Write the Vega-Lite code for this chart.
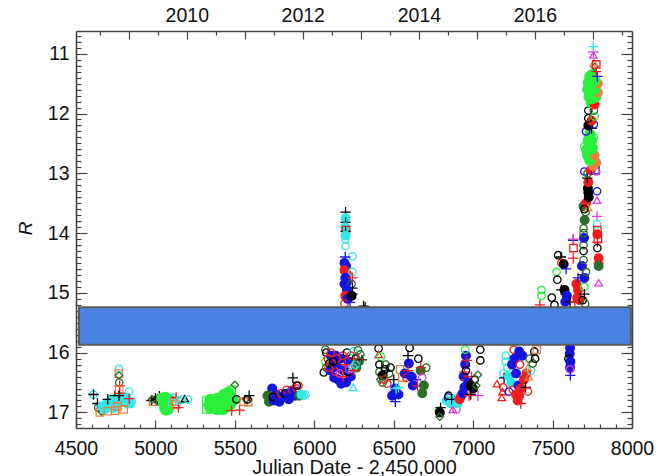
{"$schema":"https://vega.github.io/schema/vega-lite/v6.json","width":556,"height":397,"padding":{"left":76,"top":31,"right":31,"bottom":48},"autosize":"none","background":"white",
"config":{"view":{"stroke":null},"axis":{"labelFont":"Liberation Sans","titleFont":"Liberation Sans","labelFontSize":19.5,"titleFontSize":19.8,"titleFontWeight":"normal","labelColor":"#111","titleColor":"#111","domainColor":"#444","tickColor":"#444","domainWidth":1.6,"tickWidth":1.2,"grid":false}},
"datasets":{"box":[{"jd":4519,"jd2":7993,"r":15.24,"r2":15.866}],
"obs":[
{"jd":4610,"r":16.7,"s":"cc"},{"jd":4610,"r":16.7,"s":"kp"},{"jd":4640,"r":16.92,"s":"gc"},{"jd":4635,"r":16.85,"s":"kp"},{"jd":4650,"r":17.0,"s":"os"},{"jd":4660,"r":16.98,"s":"gd"},{"jd":4665,"r":16.9,"s":"cf"},{"jd":4680,"r":16.95,"s":"cf"},{"jd":4695,"r":16.85,"s":"cf"},{"jd":4700,"r":16.93,"s":"cc"},{"jd":4720,"r":16.88,"s":"cf"},{"jd":4725,"r":16.78,"s":"cf"},{"jd":4700,"r":16.78,"s":"kp"},{"jd":4745,"r":16.72,"s":"kp"},{"jd":4740,"r":16.92,"s":"cf"},{"jd":4750,"r":16.8,"s":"cf"},{"jd":4760,"r":16.85,"s":"cf"},{"jd":4780,"r":16.83,"s":"cf"},{"jd":4780,"r":16.74,"s":"cf"},{"jd":4800,"r":16.8,"s":"cf"},{"jd":4815,"r":16.75,"s":"cf"},{"jd":4820,"r":16.85,"s":"cf"},{"jd":4840,"r":16.85,"s":"cf"},{"jd":4850,"r":16.82,"s":"cc"},{"jd":4700,"r":16.98,"s":"os"},{"jd":4745,"r":16.97,"s":"os"},{"jd":4762,"r":16.9,"s":"os"},{"jd":4800,"r":16.95,"s":"os"},{"jd":4770,"r":16.27,"s":"cc"},{"jd":4770,"r":16.35,"s":"os"},{"jd":4770,"r":16.38,"s":"gd"},{"jd":4772,"r":16.5,"s":"gc"},{"jd":4775,"r":16.55,"s":"rp"},{"jd":4772,"r":16.62,"s":"os"},{"jd":4775,"r":16.68,"s":"rp"},{"jd":4770,"r":16.72,"s":"kp"},{"jd":4835,"r":16.65,"s":"cc"},{"jd":4835,"r":16.77,"s":"rp"},
{"jd":4975,"r":16.8,"s":"kp"},{"jd":4985,"r":16.82,"s":"os"},{"jd":4980,"r":16.78,"s":"gd"},{"jd":5000,"r":16.76,"s":"kp"},{"jd":5012,"r":16.78,"s":"kp"},{"jd":5025,"r":16.73,"s":"kp"},{"jd":5015,"r":16.82,"s":"gd"},{"jd":5040,"r":16.76,"s":"lf"},{"jd":5050,"r":16.82,"s":"lf"},{"jd":5062,"r":16.75,"s":"lf"},{"jd":5058,"r":16.92,"s":"lf"},{"jd":5070,"r":16.86,"s":"lf"},{"jd":5085,"r":16.78,"s":"lf"},{"jd":5085,"r":16.9,"s":"lf"},{"jd":5065,"r":16.96,"s":"lf"},{"jd":5080,"r":16.95,"s":"lf"},{"jd":5110,"r":16.75,"s":"cc"},{"jd":5105,"r":16.85,"s":"cc"},{"jd":5120,"r":16.82,"s":"os"},{"jd":5130,"r":16.75,"s":"rp"},{"jd":5130,"r":16.87,"s":"os"},{"jd":5145,"r":16.92,"s":"rp"},{"jd":5150,"r":16.8,"s":"cc"},{"jd":5170,"r":16.78,"s":"cc"},{"jd":5185,"r":16.77,"s":"kt"},{"jd":5205,"r":16.78,"s":"cc"},
{"jd":5320,"r":16.8,"s":"ls"},{"jd":5320,"r":16.95,"s":"ls"},{"jd":5335,"r":16.87,"s":"ls"},{"jd":5350,"r":16.78,"s":"ls"},{"jd":5340,"r":16.85,"s":"lf"},{"jd":5345,"r":16.78,"s":"lf"},{"jd":5345,"r":16.93,"s":"lf"},{"jd":5360,"r":16.8,"s":"lf"},{"jd":5360,"r":16.92,"s":"lf"},{"jd":5380,"r":16.85,"s":"lf"},{"jd":5385,"r":16.95,"s":"lf"},{"jd":5385,"r":16.77,"s":"lf"},{"jd":5400,"r":16.78,"s":"lf"},{"jd":5400,"r":16.92,"s":"lf"},{"jd":5420,"r":16.85,"s":"lf"},{"jd":5425,"r":16.95,"s":"lf"},{"jd":5430,"r":16.7,"s":"lf"},{"jd":5440,"r":16.92,"s":"lf"},{"jd":5450,"r":16.78,"s":"lf"},{"jd":5460,"r":16.66,"s":"lf"},{"jd":5475,"r":16.72,"s":"lf"},{"jd":5470,"r":16.88,"s":"lf"},{"jd":5490,"r":16.8,"s":"lf"},{"jd":5480,"r":16.62,"s":"ls"},{"jd":5500,"r":16.54,"s":"gd"},{"jd":5510,"r":16.78,"s":"kc"},{"jd":5480,"r":16.97,"s":"rp"},{"jd":5530,"r":16.96,"s":"rp"},{"jd":5555,"r":16.82,"s":"os"},{"jd":5570,"r":16.78,"s":"gd"},{"jd":5585,"r":16.83,"s":"os"},{"jd":5590,"r":16.72,"s":"kp"},{"jd":5580,"r":16.78,"s":"kc"},
{"jd":5705,"r":16.72,"s":"gf"},{"jd":5715,"r":16.82,"s":"gf"},{"jd":5735,"r":16.6,"s":"bf"},{"jd":5730,"r":16.72,"s":"gf"},{"jd":5745,"r":16.8,"s":"bf"},{"jd":5760,"r":16.7,"s":"bf"},{"jd":5740,"r":16.74,"s":"kc"},{"jd":5780,"r":16.82,"s":"bf"},{"jd":5800,"r":16.75,"s":"bf"},{"jd":5790,"r":16.68,"s":"rc"},{"jd":5820,"r":16.7,"s":"bf"},{"jd":5825,"r":16.62,"s":"rc"},{"jd":5815,"r":16.68,"s":"kc"},{"jd":5840,"r":16.78,"s":"bf"},{"jd":5855,"r":16.65,"s":"bf"},{"jd":5865,"r":16.42,"s":"kp"},{"jd":5870,"r":16.58,"s":"bp"},{"jd":5860,"r":16.62,"s":"rc"},{"jd":5880,"r":16.72,"s":"bf"},{"jd":5890,"r":16.6,"s":"rc"},{"jd":5900,"r":16.55,"s":"rc"},{"jd":5890,"r":16.55,"s":"kc"},{"jd":5905,"r":16.72,"s":"gf"},{"jd":5920,"r":16.7,"s":"cf"},{"jd":5935,"r":16.72,"s":"cc"},{"jd":5945,"r":16.7,"s":"cc"},
{"jd":6070,"r":15.95,"s":"gc"},{"jd":6075,"r":16.0,"s":"kc"},{"jd":6070,"r":16.15,"s":"lc"},{"jd":6060,"r":16.33,"s":"kc"},{"jd":6075,"r":16.25,"s":"gc"},{"jd":6100,"r":16.3,"s":"bf"},{"jd":6115,"r":16.2,"s":"bf"},{"jd":6105,"r":16.05,"s":"bf"},{"jd":6125,"r":16.42,"s":"bf"},{"jd":6135,"r":16.05,"s":"bf"},{"jd":6150,"r":16.25,"s":"bf"},{"jd":6150,"r":16.45,"s":"bf"},{"jd":6165,"r":16.1,"s":"bf"},{"jd":6170,"r":16.52,"s":"bf"},{"jd":6185,"r":16.3,"s":"bf"},{"jd":6200,"r":16.5,"s":"bf"},{"jd":6215,"r":16.15,"s":"bf"},{"jd":6230,"r":16.4,"s":"bf"},{"jd":6085,"r":16.1,"s":"rc"},{"jd":6095,"r":16.18,"s":"kc"},{"jd":6090,"r":16.25,"s":"rc"},{"jd":6105,"r":16.0,"s":"rc"},{"jd":6140,"r":16.1,"s":"rc"},{"jd":6135,"r":16.32,"s":"rc"},{"jd":6180,"r":16.05,"s":"rc"},{"jd":6205,"r":16.0,"s":"kc"},{"jd":6210,"r":16.32,"s":"kc"},{"jd":6195,"r":16.2,"s":"rp"},{"jd":6230,"r":16.05,"s":"rc"},{"jd":6160,"r":16.35,"s":"mc"},{"jd":6120,"r":16.15,"s":"kc"},{"jd":6180,"r":16.4,"s":"rp"},{"jd":6220,"r":16.28,"s":"mc"},
{"jd":6197,"r":13.65,"s":"kp"},{"jd":6197,"r":13.75,"s":"cf"},{"jd":6197,"r":13.82,"s":"kp"},{"jd":6195,"r":13.9,"s":"cf"},{"jd":6200,"r":13.95,"s":"rs"},{"jd":6197,"r":13.97,"s":"kp"},{"jd":6197,"r":14.04,"s":"cf"},{"jd":6197,"r":14.1,"s":"cc"},{"jd":6197,"r":14.22,"s":"cc"},{"jd":6240,"r":14.39,"s":"cc"},{"jd":6195,"r":14.4,"s":"bp"},{"jd":6190,"r":14.5,"s":"bf"},{"jd":6200,"r":14.55,"s":"bf"},{"jd":6190,"r":14.62,"s":"rf"},{"jd":6205,"r":14.68,"s":"rf"},{"jd":6195,"r":14.75,"s":"bf"},{"jd":6190,"r":14.85,"s":"bf"},{"jd":6205,"r":14.82,"s":"bf"},{"jd":6240,"r":14.65,"s":"cc"},{"jd":6240,"r":14.75,"s":"rp"},{"jd":6235,"r":14.85,"s":"gc"},{"jd":6240,"r":14.92,"s":"kp"},{"jd":6205,"r":14.95,"s":"bf"},{"jd":6195,"r":15.05,"s":"rf"},{"jd":6210,"r":15.1,"s":"bf"},{"jd":6190,"r":15.18,"s":"rc"},{"jd":6235,"r":15.05,"s":"kf"},{"jd":6240,"r":15.02,"s":"kp"},{"jd":6225,"r":15.16,"s":"bp"},{"jd":6310,"r":15.22,"s":"kp"},{"jd":6320,"r":15.24,"s":"kp"},
{"jd":6245,"r":15.98,"s":"cc"},{"jd":6275,"r":15.96,"s":"gc"},{"jd":6260,"r":16.1,"s":"kc"},{"jd":6290,"r":16.03,"s":"gc"},{"jd":6265,"r":16.18,"s":"gf"},{"jd":6280,"r":16.1,"s":"rp"},{"jd":6300,"r":16.12,"s":"kp"},{"jd":6265,"r":16.25,"s":"gf"},{"jd":6245,"r":16.25,"s":"cc"},{"jd":6250,"r":16.3,"s":"rp"},{"jd":6260,"r":16.2,"s":"cc"},{"jd":6245,"r":16.58,"s":"ct"},{"jd":6285,"r":16.15,"s":"gc"},
{"jd":6405,"r":15.93,"s":"kc"},{"jd":6405,"r":16.03,"s":"rt"},{"jd":6420,"r":16.07,"s":"lc"},{"jd":6410,"r":16.2,"s":"kc"},{"jd":6425,"r":16.25,"s":"kp"},{"jd":6450,"r":16.2,"s":"gc"},{"jd":6410,"r":16.32,"s":"gc"},{"jd":6430,"r":16.38,"s":"kf"},{"jd":6455,"r":16.3,"s":"kp"},{"jd":6415,"r":16.45,"s":"gd"},{"jd":6440,"r":16.45,"s":"rc"},{"jd":6430,"r":16.5,"s":"gc"},{"jd":6470,"r":16.35,"s":"gc"},{"jd":6445,"r":16.28,"s":"kc"},{"jd":6480,"r":16.25,"s":"kc"},{"jd":6460,"r":16.52,"s":"rc"},{"jd":6500,"r":16.45,"s":"kp"},{"jd":6510,"r":16.6,"s":"bf"},{"jd":6490,"r":16.72,"s":"bf"},{"jd":6530,"r":16.7,"s":"bf"},{"jd":6510,"r":16.82,"s":"bp"},{"jd":6515,"r":16.6,"s":"cp"},{"jd":6530,"r":16.58,"s":"cp"},{"jd":6540,"r":16.28,"s":"os"},{"jd":6555,"r":16.42,"s":"os"},{"jd":6570,"r":16.35,"s":"bf"},{"jd":6590,"r":16.05,"s":"kp"},{"jd":6595,"r":16.18,"s":"bf"},{"jd":6590,"r":16.3,"s":"rp"},{"jd":6580,"r":16.42,"s":"rc"},{"jd":6600,"r":15.92,"s":"kc"},{"jd":6610,"r":16.4,"s":"bf"},{"jd":6620,"r":16.55,"s":"bf"},{"jd":6640,"r":16.45,"s":"bp"},{"jd":6650,"r":16.55,"s":"rp"},{"jd":6655,"r":16.1,"s":"kc"},{"jd":6670,"r":16.3,"s":"gf"},{"jd":6680,"r":16.42,"s":"mc"},{"jd":6690,"r":16.55,"s":"gf"},{"jd":6680,"r":16.68,"s":"gf"},{"jd":6670,"r":16.25,"s":"rp"},{"jd":6705,"r":16.25,"s":"gc"},
{"jd":6785,"r":16.97,"s":"lc"},{"jd":6790,"r":17.0,"s":"kf"},{"jd":6790,"r":17.07,"s":"gd"},{"jd":6795,"r":16.92,"s":"kp"},{"jd":6835,"r":16.8,"s":"cf"},{"jd":6842,"r":16.75,"s":"bc"},{"jd":6845,"r":16.72,"s":"kc"},{"jd":6860,"r":16.85,"s":"cf"},{"jd":6880,"r":16.78,"s":"cf"},{"jd":6872,"r":16.95,"s":"mt"},{"jd":6865,"r":16.78,"s":"kp"},{"jd":6895,"r":16.95,"s":"mc"},{"jd":6900,"r":16.85,"s":"cf"},{"jd":6915,"r":16.78,"s":"rf"},{"jd":6925,"r":16.72,"s":"rf"},{"jd":6935,"r":16.68,"s":"bf"},{"jd":6945,"r":16.58,"s":"bf"},{"jd":6940,"r":16.4,"s":"bf"},{"jd":6950,"r":16.2,"s":"bf"},{"jd":6955,"r":16.05,"s":"bf"},{"jd":6950,"r":15.95,"s":"lc"},{"jd":6960,"r":16.13,"s":"rp"},{"jd":6945,"r":16.32,"s":"rp"},{"jd":6955,"r":16.45,"s":"rp"},{"jd":6955,"r":16.3,"s":"kc"},{"jd":6970,"r":16.5,"s":"bf"},{"jd":6985,"r":16.55,"s":"kf"},{"jd":6990,"r":16.4,"s":"rp"},{"jd":7000,"r":16.6,"s":"kf"},{"jd":7010,"r":16.45,"s":"kc"},{"jd":7030,"r":16.37,"s":"gd"},{"jd":7020,"r":16.55,"s":"gd"},{"jd":6985,"r":16.7,"s":"kp"},{"jd":6975,"r":16.72,"s":"rp"},{"jd":7030,"r":16.72,"s":"mp"},{"jd":7045,"r":15.95,"s":"kc"},{"jd":7045,"r":16.13,"s":"kc"},
{"jd":7150,"r":16.52,"s":"rt"},{"jd":7185,"r":16.65,"s":"rt"},{"jd":7190,"r":16.58,"s":"rc"},{"jd":7180,"r":16.75,"s":"rt"},{"jd":7190,"r":16.35,"s":"cc"},{"jd":7195,"r":16.42,"s":"kp"},{"jd":7205,"r":16.05,"s":"cc"},{"jd":7205,"r":16.15,"s":"cc"},{"jd":7215,"r":16.25,"s":"cc"},{"jd":7225,"r":16.4,"s":"cf"},{"jd":7240,"r":16.5,"s":"cf"},{"jd":7225,"r":16.65,"s":"bc"},{"jd":7250,"r":16.62,"s":"rc"},{"jd":7245,"r":16.2,"s":"bf"},{"jd":7260,"r":16.1,"s":"bf"},{"jd":7255,"r":15.95,"s":"rc"},{"jd":7270,"r":16.7,"s":"rf"},{"jd":7280,"r":16.8,"s":"rf"},{"jd":7270,"r":16.35,"s":"bf"},{"jd":7285,"r":16.55,"s":"bf"},{"jd":7290,"r":16.72,"s":"rf"},{"jd":7300,"r":16.6,"s":"rf"},{"jd":7295,"r":16.2,"s":"rc"},{"jd":7290,"r":15.98,"s":"bf"},{"jd":7310,"r":16.05,"s":"bf"},{"jd":7320,"r":16.45,"s":"rf"},{"jd":7335,"r":16.35,"s":"rf"},{"jd":7330,"r":16.58,"s":"kp"},{"jd":7345,"r":16.25,"s":"ot"},{"jd":7350,"r":16.4,"s":"ot"},{"jd":7355,"r":16.1,"s":"gc"},{"jd":7365,"r":16.3,"s":"cc"},{"jd":7375,"r":16.18,"s":"gc"},{"jd":7385,"r":15.98,"s":"kc"},{"jd":7390,"r":16.1,"s":"kc"},{"jd":7400,"r":15.95,"s":"os"},{"jd":7345,"r":16.65,"s":"rc"},{"jd":7300,"r":16.85,"s":"rp"},
{"jd":7420,"r":15.2,"s":"rp"},{"jd":7430,"r":14.95,"s":"lc"},{"jd":7430,"r":15.05,"s":"lc"},{"jd":7495,"r":15.08,"s":"kc"},{"jd":7512,"r":15.2,"s":"kc"},{"jd":7525,"r":14.65,"s":"lc"},{"jd":7530,"r":14.78,"s":"kc"},{"jd":7535,"r":14.37,"s":"kc"},{"jd":7552,"r":14.4,"s":"kp"},{"jd":7555,"r":14.5,"s":"rc"},{"jd":7570,"r":14.52,"s":"kf"},{"jd":7585,"r":14.6,"s":"bp"},{"jd":7555,"r":14.95,"s":"kp"},{"jd":7575,"r":14.95,"s":"kf"},{"jd":7590,"r":15.05,"s":"bf"},{"jd":7580,"r":15.15,"s":"bf"},{"jd":7610,"r":15.15,"s":"kp"},{"jd":7630,"r":14.12,"s":"bp"},{"jd":7630,"r":14.1,"s":"mp"},{"jd":7632,"r":14.25,"s":"rs"},{"jd":7630,"r":14.42,"s":"rp"},{"jd":7650,"r":14.85,"s":"rf"},{"jd":7660,"r":14.95,"s":"rf"},{"jd":7655,"r":15.08,"s":"rf"},{"jd":7640,"r":15.15,"s":"rp"},{"jd":7670,"r":15.12,"s":"rf"},{"jd":7660,"r":14.75,"s":"bp"},{"jd":7690,"r":14.7,"s":"kp"},{"jd":7685,"r":14.55,"s":"bf"},{"jd":7700,"r":14.9,"s":"lc"},{"jd":7700,"r":15.02,"s":"kp"},
{"jd":7610,"r":15.92,"s":"bf"},{"jd":7608,"r":16.02,"s":"bf"},{"jd":7600,"r":16.1,"s":"kc"},{"jd":7612,"r":16.15,"s":"bf"},{"jd":7610,"r":16.25,"s":"bf"},{"jd":7610,"r":16.28,"s":"mc"},{"jd":7612,"r":16.38,"s":"bp"},
{"jd":7695,"r":14.45,"s":"gc"},{"jd":7695,"r":14.3,"s":"kc"},{"jd":7695,"r":14.2,"s":"gc"},{"jd":7698,"r":14.08,"s":"bf"},{"jd":7695,"r":14.0,"s":"gc"},{"jd":7695,"r":13.92,"s":"gc"},{"jd":7702,"r":13.78,"s":"gf"},{"jd":7708,"r":13.65,"s":"gc"},{"jd":7695,"r":13.55,"s":"gf"},{"jd":7710,"r":13.5,"s":"rf"},{"jd":7725,"r":13.58,"s":"ot"},{"jd":7700,"r":13.6,"s":"kc"},{"jd":7728,"r":13.4,"s":"kf"},{"jd":7725,"r":13.32,"s":"kf"},{"jd":7722,"r":13.25,"s":"kf"},{"jd":7725,"r":13.15,"s":"rf"},{"jd":7718,"r":13.08,"s":"kp"},{"jd":7780,"r":13.45,"s":"mt"},{"jd":7780,"r":13.3,"s":"bc"},
{"jd":7700,"r":12.97,"s":"bc"},{"jd":7720,"r":13.0,"s":"gc"},{"jd":7740,"r":12.95,"s":"rf"},{"jd":7770,"r":12.95,"s":"bs"},{"jd":7775,"r":12.97,"s":"mc"},{"jd":7755,"r":12.88,"s":"of"},{"jd":7775,"r":12.82,"s":"of"},{"jd":7720,"r":12.7,"s":"lf"},{"jd":7735,"r":12.78,"s":"lf"},{"jd":7750,"r":12.72,"s":"lf"},{"jd":7765,"r":12.7,"s":"of"},{"jd":7700,"r":12.55,"s":"lc"},{"jd":7715,"r":12.6,"s":"lf"},{"jd":7735,"r":12.6,"s":"lf"},{"jd":7750,"r":12.58,"s":"lf"},{"jd":7725,"r":12.45,"s":"lf"},{"jd":7745,"r":12.45,"s":"lf"},{"jd":7735,"r":12.35,"s":"lf"},{"jd":7760,"r":12.4,"s":"lc"},{"jd":7710,"r":12.3,"s":"bc"},{"jd":7745,"r":12.25,"s":"kp"},{"jd":7725,"r":12.2,"s":"kf"},{"jd":7760,"r":12.18,"s":"bc"},{"jd":7745,"r":12.12,"s":"rf"},{"jd":7725,"r":12.08,"s":"kc"},{"jd":7765,"r":12.05,"s":"lc"},{"jd":7725,"r":11.95,"s":"kc"},{"jd":7760,"r":11.95,"s":"gc"},
{"jd":7745,"r":11.82,"s":"lf"},{"jd":7765,"r":11.85,"s":"rf"},{"jd":7730,"r":11.72,"s":"lf"},{"jd":7750,"r":11.75,"s":"lf"},{"jd":7772,"r":11.72,"s":"lf"},{"jd":7785,"r":11.65,"s":"of"},{"jd":7722,"r":11.6,"s":"lf"},{"jd":7745,"r":11.62,"s":"lf"},{"jd":7765,"r":11.6,"s":"lf"},{"jd":7785,"r":11.5,"s":"of"},{"jd":7725,"r":11.48,"s":"lf"},{"jd":7745,"r":11.5,"s":"lf"},{"jd":7765,"r":11.45,"s":"lf"},{"jd":7735,"r":11.38,"s":"lf"},{"jd":7750,"r":11.35,"s":"lf"},{"jd":7782,"r":11.38,"s":"bp"},{"jd":7775,"r":11.3,"s":"rp"},{"jd":7765,"r":11.22,"s":"gd"},{"jd":7760,"r":11.15,"s":"ot"},{"jd":7775,"r":11.18,"s":"rs"},{"jd":7757,"r":11.02,"s":"mt"},{"jd":7757,"r":10.97,"s":"mp"},{"jd":7757,"r":10.88,"s":"cp"},
{"jd":7780,"r":13.72,"s":"mp"},{"jd":7780,"r":13.85,"s":"cc"},{"jd":7782,"r":13.95,"s":"rs"},{"jd":7782,"r":14.02,"s":"rf"},{"jd":7785,"r":14.1,"s":"rs"},{"jd":7782,"r":14.15,"s":"rp"},{"jd":7782,"r":14.25,"s":"kc"},{"jd":7790,"r":14.42,"s":"rf"},{"jd":7790,"r":14.5,"s":"rp"},{"jd":7790,"r":14.55,"s":"gf"},{"jd":7790,"r":14.83,"s":"mt"},
{"jd":7700,"r":14.75,"s":"bf"},{"jd":7710,"r":14.65,"s":"gc"},{"jd":7690,"r":15.12,"s":"kc"},{"jd":7705,"r":15.18,"s":"gc"}
]},
"layer":[
{"data":{"name":"obs"},"mark":{"type":"point","filled":false,"strokeWidth":1.3,"opacity":1,"clip":true},
"encoding":{
"x":{"field":"jd","type":"quantitative","scale":{"domain":[4500,8000],"nice":false,"zero":false},"title":"Julian Date - 2,450,000",
"axis":{"orient":"bottom","values":[4500,5000,5500,6000,6500,7000,7500,8000],"format":"d","tickSize":-8,"labelPadding":19,"titleY":45,"titleBaseline":"alphabetic","titlePadding":0,"labelFlush":false}},
"y":{"field":"r","type":"quantitative","scale":{"domain":[17.26,10.62],"nice":false,"zero":false},"title":"R",
"axis":{"orient":"left","values":[11,12,13,14,15,16,17],"format":"d","tickSize":-11,"labelPadding":18,"titleX":-41,"titleY":197,"titleFontStyle":"italic","titleFontWeight":"normal","titleFontSize":19}},
"stroke":{"field":"s","type":"nominal","legend":null,"scale":{"domain":["kp","kc","kt","kf","rp","rc","rt","rs","rf","bp","bc","bs","bf","ls","lc","lf","cc","ct","cp","cf","gc","gd","gf","os","ot","of","mp","mc","mt"],"range":["#000","#000","#000","#000","#f01c1c","#f01c1c","#f01c1c","#f01c1c","#f01c1c","#1414e0","#1414e0","#1414e0","#1414e0","#2aee3c","#2aee3c","#2aee3c","#35e6e6","#35e6e6","#35e6e6","#35e6e6","#2a6e2a","#2a6e2a","#2a6e2a","#ea8040","#ea8040","#ea8040","#e038e0","#e038e0","#e038e0"]}},
"fill":{"field":"s","type":"nominal","legend":null,"scale":{"domain":["kp","kc","kt","kf","rp","rc","rt","rs","rf","bp","bc","bs","bf","ls","lc","lf","cc","ct","cp","cf","gc","gd","gf","os","ot","of","mp","mc","mt"],"range":["transparent","transparent","transparent","#000","transparent","transparent","transparent","transparent","#f01c1c","transparent","transparent","transparent","#1414e0","transparent","transparent","#2aee3c","transparent","transparent","transparent","#35e6e6","transparent","transparent","#2a6e2a","transparent","transparent","#ea8040","transparent","transparent","transparent"]}},
"size":{"field":"s","type":"nominal","legend":null,"scale":{"type":"ordinal","domain":["kp","kc","kt","kf","rp","rc","rt","rs","rf","bp","bc","bs","bf","ls","lc","lf","cc","ct","cp","cf","gc","gd","gf","os","ot","of","mp","mc","mt"],"range":[55,55,55,75,55,55,55,55,75,55,55,55,75,55,55,100,55,55,55,75,55,55,75,55,55,75,55,55,55]}},
"shape":{"field":"s","type":"nominal","legend":null,"scale":{"domain":["kp","kc","kt","kf","rp","rc","rt","rs","rf","bp","bc","bs","bf","ls","lc","lf","cc","ct","cp","cf","gc","gd","gf","os","ot","of","mp","mc","mt"],"range":["M-1.4,0L1.4,0M0,-1.4L0,1.4","circle","triangle-up","circle","M-1.4,0L1.4,0M0,-1.4L0,1.4","circle","triangle-up","square","circle","M-1.4,0L1.4,0M0,-1.4L0,1.4","circle","square","circle","square","circle","circle","circle","triangle-up","M-1.4,0L1.4,0M0,-1.4L0,1.4","circle","circle","diamond","circle","square","triangle-up","circle","M-1.4,0L1.4,0M0,-1.4L0,1.4","circle","triangle-up"]}}
}},
{"data":{"name":"box"},"mark":{"type":"point","opacity":0},
"encoding":{
"x":{"field":"jd","type":"quantitative","scale":{"domain":[4500,8000],"nice":false,"zero":false},"title":null,
"axis":{"orient":"bottom","domain":false,"labels":false,"values":[4600,4700,4800,4900,5100,5200,5300,5400,5600,5700,5800,5900,6100,6200,6300,6400,6600,6700,6800,6900,7100,7200,7300,7400,7600,7700,7800,7900],"tickSize":-4}},
"y":{"field":"r","type":"quantitative","scale":{"domain":[17.26,10.62],"nice":false,"zero":false},"title":null,
"axis":{"orient":"left","domain":false,"labels":false,"values":[10.7,10.8,10.9,11.1,11.2,11.3,11.4,11.5,11.6,11.7,11.8,11.9,12.1,12.2,12.3,12.4,12.5,12.6,12.7,12.8,12.9,13.1,13.2,13.3,13.4,13.5,13.6,13.7,13.8,13.9,14.1,14.2,14.3,14.4,14.5,14.6,14.7,14.8,14.9,15.1,15.2,15.3,15.4,15.5,15.6,15.7,15.8,15.9,16.1,16.2,16.3,16.4,16.5,16.6,16.7,16.8,16.9,17.1,17.2],"tickSize":-5}}
}},
{"data":{"name":"box"},"mark":{"type":"point","opacity":0},
"encoding":{
"x":{"field":"jd","type":"quantitative","scale":{"domain":[4500,8000],"nice":false,"zero":false},"title":null,
"axis":{"orient":"top","values":[4832.5,5197.5,5562.5,5927.5,6293.5,6658.5,7023.5,7388.5,7754.5],"labelExpr":"datum.value==5197.5?'2010':datum.value==5927.5?'2012':datum.value==6658.5?'2014':datum.value==7388.5?'2016':''","tickSize":-8,"labelPadding":14}},
"y":{"field":"r","type":"quantitative","scale":{"domain":[17.26,10.62],"nice":false,"zero":false},"title":null,
"axis":{"orient":"right","values":[11,12,13,14,15,16,17],"labels":false,"tickSize":-11}}
}},
{"data":{"name":"box"},"mark":{"type":"rect","fill":"#4a82e2","stroke":"#5a5a5a","strokeWidth":2},
"encoding":{
"x":{"field":"jd","type":"quantitative","scale":{"domain":[4500,8000],"nice":false,"zero":false},"title":null,
"axis":{"orient":"top","domain":false,"labels":false,"values":[4649,5015,5380,5745,6110,6475,6840,7205,7571,7936],"tickSize":-4}},
"x2":{"field":"jd2"},
"y":{"field":"r","type":"quantitative","scale":{"domain":[17.26,10.62],"nice":false,"zero":false},"title":null,
"axis":{"orient":"right","domain":false,"labels":false,"values":[10.7,10.8,10.9,11.1,11.2,11.3,11.4,11.5,11.6,11.7,11.8,11.9,12.1,12.2,12.3,12.4,12.5,12.6,12.7,12.8,12.9,13.1,13.2,13.3,13.4,13.5,13.6,13.7,13.8,13.9,14.1,14.2,14.3,14.4,14.5,14.6,14.7,14.8,14.9,15.1,15.2,15.3,15.4,15.5,15.6,15.7,15.8,15.9,16.1,16.2,16.3,16.4,16.5,16.6,16.7,16.8,16.9,17.1,17.2],"tickSize":-5}},
"y2":{"field":"r2"}
}}
],
"resolve":{"axis":{"x":"independent","y":"independent"}}
}
